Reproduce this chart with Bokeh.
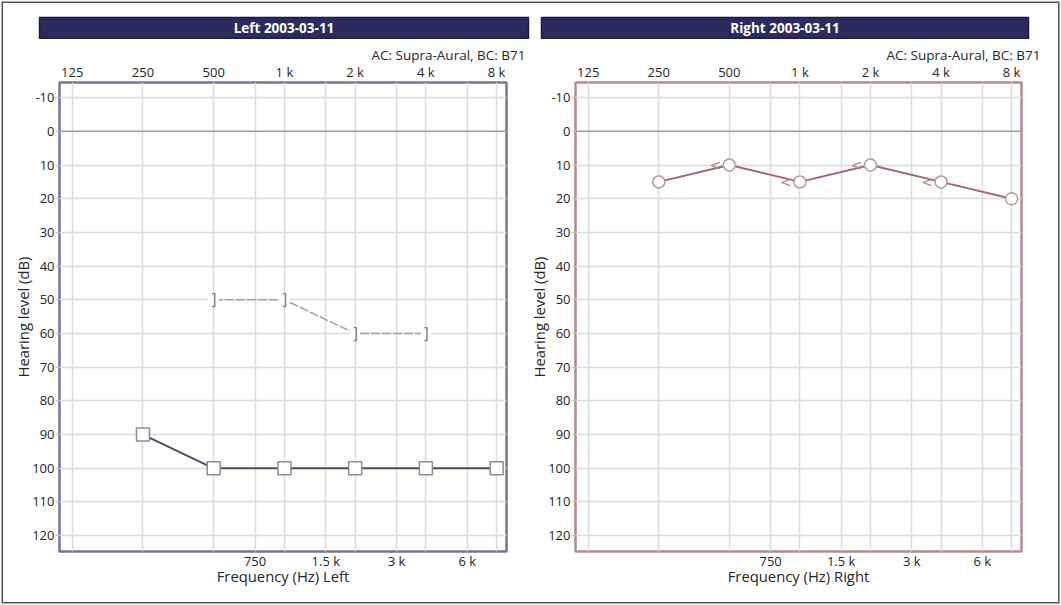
from bokeh.plotting import figure
from bokeh.models import Range1d, LogAxis, FixedTicker, Span, Label
from bokeh.layouts import row, column
from bokeh.embed import file_html
from bokeh.resources import INLINE
from bokeh.core.properties import value

# ---------------- data ----------------
freqs = [250, 500, 1000, 2000, 4000, 8000]
left_ac = [90, 100, 100, 100, 100, 100]
left_bc_freqs = [500, 1000, 2000, 4000]
left_bc = [50, 50, 60, 60]
right_ac = [15, 10, 15, 10, 15, 20]
right_bc_freqs = [500, 1000, 2000, 4000]
right_bc = [10, 15, 10, 15]

top_ticks = [125, 250, 500, 1000, 2000, 4000, 8000]
top_labels = ["125", "250", "500", "1 k", "2 k", "4 k", "8 k"]
bottom_ticks = [750, 1500, 3000, 6000]
bottom_labels = ["750", "1.5 k", "3 k", "6 k"]
y_ticks = [-10, 0, 10, 20, 30, 40, 50, 60, 70, 80, 90, 100, 110, 120]
y_labels = ["-10", "0", "10", "20", "30", "40", "50", "60", "70", "80", "90", "100", "110", "120"]

titles = ["Left 2003-03-11", "Right 2003-03-11"]
subtitle = "AC: Supra-Aural, BC: B71"
x_labels = ["Frequency (Hz) Left", "Frequency (Hz) Right"]
y_label = "Hearing level (dB)"

FONT = "Open Sans"
TXT = "#262626"
BAR_H = 39
MAIN_H = 605 - BAR_H


def make_bar(width, mb_left, mb_right, title):
    b = figure(width=width, height=BAR_H, x_range=Range1d(0, 1), y_range=Range1d(0, 1),
               x_axis_type=None, y_axis_type=None, output_backend="svg",
               toolbar_location=None, min_border_left=mb_left, min_border_right=mb_right,
               min_border_top=17, min_border_bottom=BAR_H - 38)
    b.title.visible = False
    b.background_fill_color = "#2d2b5e"
    b.border_fill_color = None
    b.outline_line_color = "#1c1b40"
    b.outline_line_width = 1.5
    b.add_layout(Label(x=0.5, y=0.5, text=title, text_align="center",
                       text_baseline="middle", text_font=FONT, text_font_size="13.5px",
                       text_font_style="bold", text_color="white"))
    return b


def make_panel(width, mb_left, mb_right, outline, xlabel):
    p = figure(width=width, height=MAIN_H, x_axis_type="log", x_axis_location="above",
               x_range=Range1d(125 * 2 ** -0.18, 8000 * 2 ** 0.14),
               y_range=Range1d(124.7, -14.5),
               output_backend="svg", toolbar_location=None,
               min_border_left=mb_left, min_border_right=mb_right,
               min_border_top=82 - BAR_H, min_border_bottom=MAIN_H - (551 - BAR_H))
    p.title.text = subtitle
    p.title.align = "right"
    p.title.offset = -19
    p.title.standoff = -8
    p.title.text_font = FONT
    p.title.text_font_size = "13.5px"
    p.title.text_font_style = "normal"
    p.title.text_color = TXT
    p.background_fill_color = "white"
    p.border_fill_color = None
    p.outline_line_color = outline
    p.outline_line_width = 2.5

    ta = p.xaxis[0]
    ta.ticker = FixedTicker(ticks=top_ticks)
    ta.major_label_overrides = dict(zip(top_ticks, top_labels))
    ba = LogAxis(ticker=FixedTicker(ticks=bottom_ticks),
                 major_label_overrides=dict(zip(bottom_ticks, bottom_labels)),
                 axis_label=xlabel)
    p.add_layout(ba, "below")
    for ax in (ta, ba):
        ax.major_tick_line_color = None
        ax.minor_tick_line_color = None
        ax.major_tick_out = 0
        ax.major_tick_in = 0
        ax.minor_tick_out = 0
        ax.axis_line_color = None
    ta.major_label_standoff = 2
    ba.major_label_standoff = 0
    ba.axis_label_standoff = -7

    ya = p.yaxis[0]
    ya.ticker = FixedTicker(ticks=y_ticks)
    ya.major_label_overrides = dict(zip(y_ticks, y_labels))
    ya.axis_label = y_label
    ya.axis_line_color = None
    ya.minor_tick_line_color = None
    ya.minor_tick_out = 0
    ya.major_tick_line_color = "#c0c0c0"
    ya.major_tick_out = 4
    ya.major_tick_in = 0
    ya.major_label_standoff = 1
    ya.axis_label_standoff = -4

    for ax in (ta, ba, ya):
        ax.major_label_text_font = FONT
        ax.major_label_text_font_size = "13px"
        ax.major_label_text_color = TXT
        ax.axis_label_text_font = FONT
        ax.axis_label_text_font_size = "14.8px"
        ax.axis_label_text_font_style = "normal"
        ax.axis_label_text_color = TXT

    p.xgrid.ticker = FixedTicker(ticks=sorted(top_ticks + bottom_ticks))
    p.xgrid.grid_line_color = "#dcdcdc"
    p.xgrid.grid_line_width = 1.5
    p.ygrid.ticker = FixedTicker(ticks=y_ticks)
    p.ygrid.grid_line_color = "#dcdcdc"
    p.ygrid.grid_line_width = 1.5
    p.add_layout(Span(location=0, dimension="width", line_color="#a0a0a0", line_width=1.5))
    return p


bar_left = make_bar(534, 39, 534 - 528, titles[0])
bar_right = make_bar(527, 541 - 534, 527 - (1028 - 534), titles[1])

LW = 526
left = make_panel(LW, 59, LW - 506, "#75759a", x_labels[0])
right = make_panel(1061 - LW, 574 - LW, (1061 - LW) - (1021 - LW), "#b48a8e", x_labels[1])

# left ear: AC (squares) and masked BC (brackets)
left.line(left_bc_freqs, left_bc, line_color="#a2a2a2", line_width=1.5, line_dash="9 2")
left.scatter(left_bc_freqs, left_bc, marker="square", size=10, fill_color="white", line_color=None)
left.text(left_bc_freqs, left_bc, text=["]"] * len(left_bc), text_align="center",
          text_baseline="middle", text_font=value("DejaVu Sans"), text_font_size="15px",
          text_color="#7a7a7a")
left.line(freqs, left_ac, line_color="#4d4c70", line_width=2)
left.scatter(freqs, left_ac, marker="square", size=13, fill_color="white",
             line_color="#8c8c8c", line_width=1.5)

# right ear: AC circles, unmasked BC "<"
right.line(freqs, right_ac, line_color="#a5676d", line_width=2)
right.scatter(freqs, right_ac, marker="circle", size=12, fill_color="white",
              line_color="#b39a9c", line_width=1.5)
right.text(right_bc_freqs, right_bc, text=["<"] * len(right_bc), text_align="center",
           text_baseline="middle", x_offset=-14, text_font=value("DejaVu Sans"),
           text_font_size="14px", text_color="#b08086")

layout = column(row(bar_left, bar_right), row(left, right),
                styles={"background-color": "white",
                        "box-shadow": "inset 0 0 0 1.5px #ffffff, inset 0 0 0 3px #555555"})
open("out.html", "w").write(file_html(layout, INLINE))
